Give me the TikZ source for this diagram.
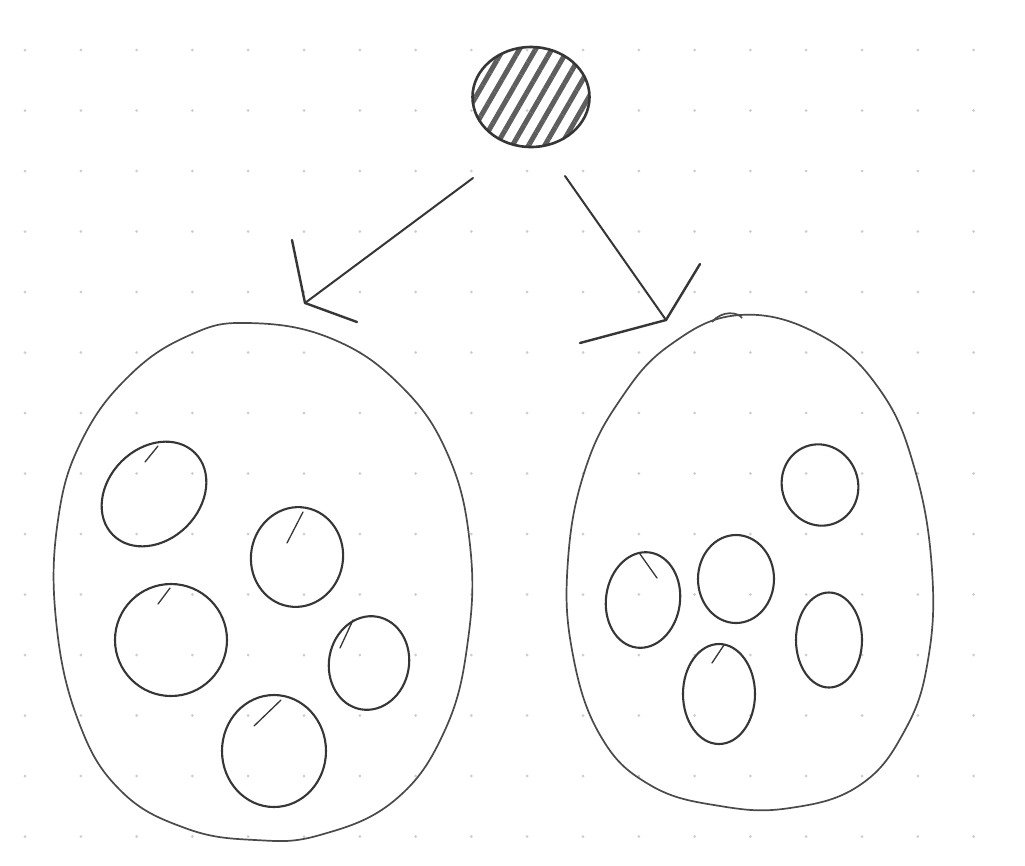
\documentclass[tikz,border=0pt]{standalone}
\usetikzlibrary{shapes.geometric,patterns.meta}
\definecolor{ink}{HTML}{363636}
\definecolor{dotc}{HTML}{CDCDCD}
\begin{document}
\begin{tikzpicture}[x=1pt,y=-1pt,
  pen/.style={draw=ink, line width=2pt, line cap=round, line join=round},
  eggpen/.style={draw=ink!90, line width=1.7pt, line join=round},
  cell/.style={ellipse, draw=ink, line width=2.1pt, inner sep=0pt, outer sep=0pt},
  nick/.style={draw=ink, line width=1.3pt, line cap=round},
  dotmark/.style={fill=dotc, draw=none}]
\useasboundingbox[fill=white] (0,0) rectangle (1025,865);
% dot grid
\foreach \i in {0,...,17}{
  \foreach \j in {0,...,13}{
    \fill[dotmark] ({25+55.8*\i},{50+60.5*\j}) circle (1.5pt);
  }}
% source blob
\node[cell, line width=2.6pt, minimum width=117pt, minimum height=100pt,
  pattern={Lines[angle=60,distance=14pt,line width=5pt]}, pattern color=ink!80] (src) at (531,97) {};
% big eggs
\draw[eggpen] plot[smooth cycle, tension=0.7] coordinates {
  (248,323) (330,338) (400,385) (448,455) (470,545) (468,640) (445,730)
  (395,800) (320,835) (255,840) (185,828) (120,790) (78,720) (56,620)
  (58,520) (82,440) (130,375) (190,335)};
\coordinate (left) at (262,581);
\draw[eggpen] plot[smooth cycle, tension=0.7] coordinates {
  (740,315) (820,335) (880,390) (915,470) (932,570) (928,660) (905,730)
  (860,785) (790,808) (720,806) (650,785) (600,735) (572,650) (568,560)
  (585,470) (620,400) (670,345)};
\coordinate (right) at (751,560);
\draw[eggpen] (712,322) .. controls (722,310) and (738,312) .. (742,318);
% arrows
\coordinate (ls) at (473,178); \coordinate (lt) at (305,303);
\coordinate (la1) at (292,240); \coordinate (la2) at (357,322);
\draw[pen] (ls) -- (lt);
\draw[pen, line width=2.4pt] (la1) -- (lt) -- (la2);
\coordinate (rs) at (565,176); \coordinate (rt) at (666,320);
\coordinate (ra1) at (700,264); \coordinate (ra2) at (580,343);
\draw[pen] (rs) -- (rt);
\draw[pen, line width=2.4pt] (ra1) -- (rt) -- (ra2);
% cells, left
\node[cell, rotate=45, minimum width=116pt, minimum height=92pt] (l1) at (154,494) {};
\node[cell, rotate=80, minimum width=100pt, minimum height=92pt] (l2) at (297,557) {};
\node[cell, minimum width=112pt, minimum height=112pt] (l3) at (171,640) {};
\node[cell, rotate=80, minimum width=94pt, minimum height=80pt] (l4) at (369,663) {};
\node[cell, minimum width=104pt, minimum height=112pt] (l5) at (274,751) {};
\draw[nick] (158,446) -- (145,462);
\draw[nick] (303,512) -- (287,543);
\draw[nick] (170,588) -- (158,604);
\draw[nick] (353,620) -- (340,648);
\draw[nick] (281,700) -- (254,726);
% cells, right
\node[cell, rotate=20, minimum width=76pt, minimum height=82pt] (r1) at (820,485) {};
\node[cell, minimum width=76pt, minimum height=88pt] (r2) at (736,579) {};
\node[cell, rotate=-8, minimum width=74pt, minimum height=96pt] (r3) at (643,600) {};
\node[cell, minimum width=66pt, minimum height=95pt] (r4) at (829,640) {};
\node[cell, minimum width=72pt, minimum height=100pt] (r5) at (719,694) {};
\draw[nick] (640,554) -- (657,578);
\draw[nick] (724,645) -- (712,663);
\end{tikzpicture}
\end{document}
